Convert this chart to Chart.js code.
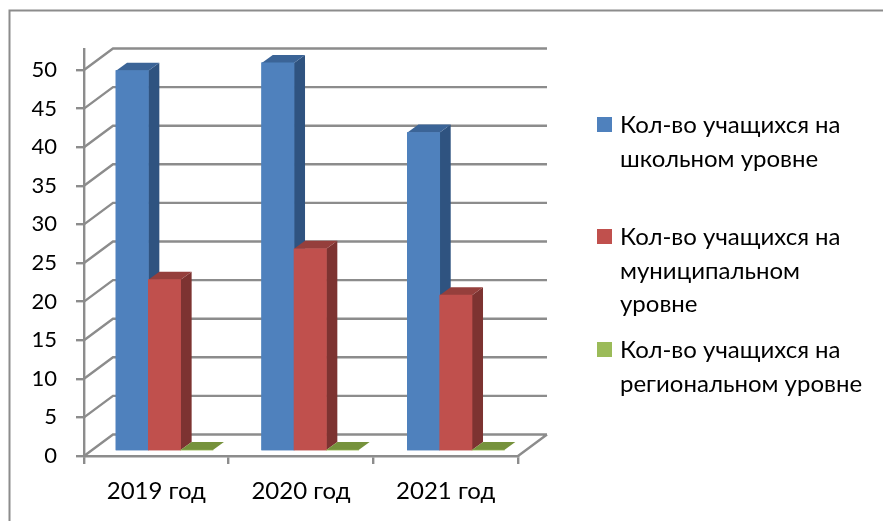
<!DOCTYPE html>
<html>
<head>
<meta charset="utf-8">
<style>
  html, body { margin: 0; padding: 0; background: #fff; }
  #wrap { width: 883px; height: 521px; position: relative; overflow: hidden; }
  canvas { display: block; }
</style>
<script src="https://cdn.jsdelivr.net/npm/chart.js@4"></script>
</head>
<body>
<div id="wrap"><canvas id="grafico" width="883" height="521"></canvas></div>
<script>
const categories = ['2019 год', '2020 год', '2021 год'];
const yTicks = [0, 5, 10, 15, 20, 25, 30, 35, 40, 45, 50];
const shkolny = [49, 50, 41];
const municipalny = [22, 26, 20];
const regionalny = [0, 0, 0];
const seriesNames = [
  ['Кол-во учащихся на', 'школьном уровне'],
  ['Кол-во учащихся на', 'муниципальном', 'уровне'],
  ['Кол-во учащихся на', 'региональном уровне']
];

const FONT = 'Lato, Carlito, Calibri, sans-serif';
const FONT_SIZE = 24;
const GRID = '#8C8C8C';
const GRID_W = 2.4;
// front, side, top of each series
const COLORS = [
  ['#4F81BD', '#2F5380', '#3B6497'],
  ['#C0504D', '#7D3331', '#953F3C'],
  ['#9BBB59', '#5F7A2E', '#76923C']
];

const DEPTH_X = 29, DEPTH_Y = 21.5;   // wall offset
const BAR_DX = 11, BAR_DY = 8;        // bar offset

const wallPlugin = {
  id: 'wall',
  // frame, floor and back wall
  beforeDatasetsDraw(chart) {
    const { ctx, scales: { yAxis, x } } = chart;
    const left = x.left, right = x.right;
    ctx.save();
    ctx.strokeStyle = '#8C8C8C';
    ctx.lineWidth = 2;
    ctx.beginPath();
    ctx.moveTo(883, 10.5);
    ctx.lineTo(9.5, 10.5);
    ctx.lineTo(9.5, 521);
    ctx.stroke();

    ctx.strokeStyle = GRID;
    ctx.lineWidth = GRID_W;
    ctx.beginPath();
    yAxis.ticks.forEach(t => {
      const y = yAxis.getPixelForValue(t.value);
      ctx.moveTo(left, y);
      ctx.lineTo(left + DEPTH_X, y - DEPTH_Y);
      ctx.lineTo(right + DEPTH_X, y - DEPTH_Y);
    });
    const y0 = yAxis.getPixelForValue(0);
    ctx.moveTo(right, y0);
    ctx.lineTo(right + DEPTH_X, y0 - DEPTH_Y);
    ctx.stroke();
    ctx.restore();
  },
  // side and top faces; front is redrawn so each series covers the one before it
  afterDatasetsDraw(chart) {
    const { ctx } = chart;
    ctx.save();
    chart.data.datasets.forEach((ds, i) => {
      chart.getDatasetMeta(i).data.forEach(bar => {
        const l = bar.x - bar.width / 2, r = bar.x + bar.width / 2;
        const t = bar.y, b = bar.base;
        if (b - t > 0.5) {
          ctx.fillStyle = COLORS[i][1];
          ctx.beginPath();
          ctx.moveTo(r, t);
          ctx.lineTo(r + BAR_DX, t - BAR_DY);
          ctx.lineTo(r + BAR_DX, b - BAR_DY);
          ctx.lineTo(r, b);
          ctx.closePath();
          ctx.fill();
        }
        ctx.fillStyle = COLORS[i][2];
        ctx.beginPath();
        ctx.moveTo(l, t);
        ctx.lineTo(l + BAR_DX, t - BAR_DY);
        ctx.lineTo(r + BAR_DX, t - BAR_DY);
        ctx.lineTo(r, t);
        ctx.closePath();
        ctx.fill();
        bar.draw(ctx);
      });
    });
    ctx.restore();
  }
};

// легенда: строки стоят неравномерно, поэтому рисуем сами
const LEGEND_Y = [[125, 159], [237, 271, 304], [350, 384]];
const legendPlugin = {
  id: 'legendaLado',
  afterDraw(chart) {
    const { ctx } = chart;
    ctx.save();
    ctx.font = FONT_SIZE + 'px ' + FONT;
    ctx.textBaseline = 'middle';
    seriesNames.forEach((lines, i) => {
      ctx.fillStyle = COLORS[i][0];
      ctx.fillRect(597, LEGEND_Y[i][0] - 8, 15, 15);
      ctx.fillStyle = '#000';
      lines.forEach((txt, j) => ctx.fillText(txt, 620, LEGEND_Y[i][j]));
    });
    ctx.restore();
  }
};

const toPoints = arr => arr.map((v, i) => ({ x: i, y: v }));

new Chart(document.getElementById('grafico'), {
  type: 'bar',
  data: {
    labels: categories,
    datasets: [
      { label: seriesNames[0].join(' '), data: toPoints(shkolny), backgroundColor: COLORS[0][0] },
      { label: seriesNames[1].join(' '), data: toPoints(municipalny), backgroundColor: COLORS[1][0] },
      { label: seriesNames[2].join(' '), data: toPoints(regionalny), backgroundColor: COLORS[2][0] }
    ].map(d => ({ ...d, xAxisID: 'xBars', yAxisID: 'yBars', barThickness: 32.3, borderWidth: 0, clip: false }))
  },
  options: {
    responsive: false,
    animation: false,
    devicePixelRatio: 1,
    layout: { padding: { left: 0, top: 49, right: 365, bottom: 0 } },
    plugins: { legend: { display: false }, tooltip: { enabled: false } },
    scales: {
      // visible axes
      x: {
        type: 'category',
        offset: true,
        position: 'bottom',
        afterFit: s => { s.height = 65; },
        border: { color: GRID, width: GRID_W },
        grid: { offset: true, drawOnChartArea: false, color: GRID, lineWidth: GRID_W, tickLength: 8 },
        ticks: { color: '#000', padding: 13, maxRotation: 0, font: { family: FONT, size: FONT_SIZE } }
      },
      yAxis: {
        type: 'linear',
        position: 'left',
        min: 0,
        max: 52.72,
        afterBuildTicks: s => { s.ticks = yTicks.map(value => ({ value })); },
        afterFit: s => { s.width = 84; },
        border: { color: GRID, width: GRID_W },
        grid: { drawOnChartArea: false, color: GRID, lineWidth: GRID_W, tickLength: 8 },
        ticks: { color: '#000', padding: 19, font: { family: FONT, size: 22 } }
      },
      // hidden axes the bars sit on: the bar plane is shifted into the box
      xBars: { type: 'linear', display: false, offset: false, min: -0.5525, max: 2.4265 },
      yBars: { type: 'linear', display: false, min: -0.775, max: 51.8 }
    }
  },
  plugins: [wallPlugin, legendPlugin]
});
</script>
</body>
</html>
